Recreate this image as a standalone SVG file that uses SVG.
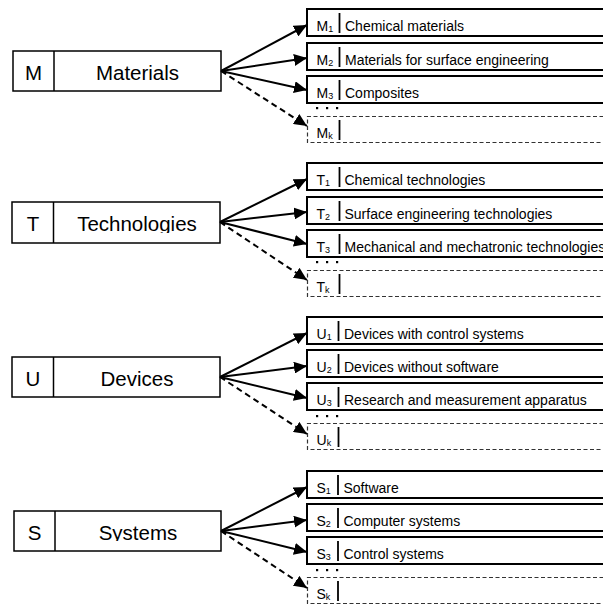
<svg xmlns="http://www.w3.org/2000/svg" width="603" height="604" viewBox="0 0 603 604">
<style>
.bg{fill:#fff}
.lb{fill:#fff;stroke:#000;stroke-width:1.5}
.ln{stroke:#000;stroke-width:1.5}
.sb{fill:#fff;stroke:#000;stroke-width:2}
.db{fill:none;stroke:#333;stroke-width:1.2;stroke-dasharray:4 2.5}
.dv{stroke:#000;stroke-width:1.8}
.big{font-family:"Liberation Sans",Arial,sans-serif;font-size:20.5px;fill:#000;text-anchor:middle}
.sm{font-family:"Liberation Sans",Arial,sans-serif;font-size:14px;fill:#000}
.sub{font-size:9px}
.ar{stroke:#000;stroke-width:2;fill:none;marker-end:url(#ah)}
.ard{stroke:#000;stroke-width:2;fill:none;stroke-dasharray:6 4;marker-end:url(#ah)}
.dot{fill:#000}
</style>
<defs>
<marker id="ah" markerUnits="userSpaceOnUse" markerWidth="14" markerHeight="12" refX="13" refY="6" orient="auto">
<path d="M0,0 L13,6 L0,12 Z" fill="#000"/>
</marker>
<clipPath id="cT"><rect x="54" y="202" width="166" height="31"/></clipPath>
<clipPath id="cS"><rect x="54" y="511" width="166" height="30"/></clipPath>
</defs>
<rect class="bg" x="0" y="0" width="603" height="604"/>

<!-- Left nodes -->
<g id="node-M">
<rect class="lb" x="13" y="51" width="208" height="40"/>
<line class="ln" x1="54" y1="51" x2="54" y2="91"/>
<text class="big" x="33.5" y="80">M</text>
<text class="big" x="137.5" y="80">Materials</text>
</g>
<g id="node-T">
<rect class="lb" x="12" y="202" width="208" height="41"/>
<line class="ln" x1="53.5" y1="202" x2="53.5" y2="243"/>
<text class="big" x="33" y="231">T</text>
<text class="big" x="137" y="231" clip-path="url(#cT)">Technologies</text>
</g>
<g id="node-U">
<rect class="lb" x="12" y="357" width="208" height="40"/>
<line class="ln" x1="53.5" y1="357" x2="53.5" y2="397"/>
<text class="big" x="33" y="385.5">U</text>
<text class="big" x="137" y="385.5">Devices</text>
</g>
<g id="node-S">
<rect class="lb" x="14" y="511" width="207" height="40"/>
<line class="ln" x1="55" y1="511" x2="55" y2="551"/>
<text class="big" x="34.5" y="540">S</text>
<text class="big" x="138" y="540" clip-path="url(#cS)">Systems</text>
</g>

<!-- Right nodes: M -->
<g id="node-M1"><rect class="sb" x="307" y="9" width="310" height="27"/><line class="dv" x1="339.5" y1="13" x2="339.5" y2="33"/><text class="sm" x="316.5" y="30.5">M<tspan class="sub" dy="1">1</tspan></text><text class="sm" x="345" y="30.5">Chemical materials</text></g>
<g id="node-M2"><rect class="sb" x="307" y="43" width="310" height="27"/><line class="dv" x1="339.5" y1="47" x2="339.5" y2="67"/><text class="sm" x="316.5" y="64.5">M<tspan class="sub" dy="1">2</tspan></text><text class="sm" x="345" y="64.5">Materials for surface engineering</text></g>
<g id="node-M3"><rect class="sb" x="307" y="76" width="310" height="27"/><line class="dv" x1="339.5" y1="80" x2="339.5" y2="100"/><text class="sm" x="316.5" y="97.5">M<tspan class="sub" dy="1">3</tspan></text><text class="sm" x="345" y="97.5">Composites</text></g>
<g id="dots-M"><rect class="dot" x="316" y="107" width="2.2" height="2.2"/><rect class="dot" x="326" y="107" width="2.2" height="2.2"/><rect class="dot" x="336" y="107" width="2.2" height="2.2"/></g>
<g id="node-Mk"><path class="db" d="M610,116.5 H307.5 V142.5 H610"/><line class="dv" x1="339.5" y1="120" x2="339.5" y2="140"/><text class="sm" x="316.5" y="137.5">M<tspan class="sub" dy="1">k</tspan></text></g>

<!-- Right nodes: T -->
<g id="node-T1"><rect class="sb" x="307" y="163" width="310" height="27"/><line class="dv" x1="339.5" y1="167" x2="339.5" y2="187"/><text class="sm" x="316.5" y="184.5">T<tspan class="sub" dy="1">1</tspan></text><text class="sm" x="344.5" y="184.5">Chemical technologies</text></g>
<g id="node-T2"><rect class="sb" x="307" y="197" width="310" height="27"/><line class="dv" x1="339.5" y1="201" x2="339.5" y2="221"/><text class="sm" x="316.5" y="218.5">T<tspan class="sub" dy="1">2</tspan></text><text class="sm" x="344.5" y="218.5">Surface engineering technologies</text></g>
<g id="node-T3"><rect class="sb" x="307" y="230" width="310" height="27"/><line class="dv" x1="339.5" y1="234" x2="339.5" y2="254"/><text class="sm" x="316.5" y="251.5">T<tspan class="sub" dy="1">3</tspan></text><text class="sm" x="344.5" y="251.5">Mechanical and mechatronic technologies</text></g>
<g id="dots-T"><rect class="dot" x="316" y="261" width="2.2" height="2.2"/><rect class="dot" x="326" y="261" width="2.2" height="2.2"/><rect class="dot" x="336" y="261" width="2.2" height="2.2"/></g>
<g id="node-Tk"><path class="db" d="M610,270.5 H307.5 V296.5 H610"/><line class="dv" x1="339.5" y1="274" x2="339.5" y2="294"/><text class="sm" x="316.5" y="291.5">T<tspan class="sub" dy="1">k</tspan></text></g>

<!-- Right nodes: U -->
<g id="node-U1"><rect class="sb" x="307" y="317" width="310" height="27"/><line class="dv" x1="338.5" y1="321" x2="338.5" y2="341"/><text class="sm" x="316.5" y="338.5">U<tspan class="sub" dy="1">1</tspan></text><text class="sm" x="344" y="338.5">Devices with control systems</text></g>
<g id="node-U2"><rect class="sb" x="307" y="350" width="310" height="27"/><line class="dv" x1="338.5" y1="354" x2="338.5" y2="374"/><text class="sm" x="316.5" y="371.5">U<tspan class="sub" dy="1">2</tspan></text><text class="sm" x="344" y="371.5">Devices without software</text></g>
<g id="node-U3"><rect class="sb" x="307" y="383" width="310" height="27"/><line class="dv" x1="338.5" y1="387" x2="338.5" y2="407"/><text class="sm" x="316.5" y="404.5">U<tspan class="sub" dy="1">3</tspan></text><text class="sm" x="344" y="404.5">Research and measurement apparatus</text></g>
<g id="dots-U"><rect class="dot" x="316" y="415" width="2.2" height="2.2"/><rect class="dot" x="326" y="415" width="2.2" height="2.2"/><rect class="dot" x="336" y="415" width="2.2" height="2.2"/></g>
<g id="node-Uk"><path class="db" d="M610,423.5 H307.5 V449.5 H610"/><line class="dv" x1="338.5" y1="427" x2="338.5" y2="447"/><text class="sm" x="316.5" y="444.5">U<tspan class="sub" dy="1">k</tspan></text></g>

<!-- Right nodes: S -->
<g id="node-S1"><rect class="sb" x="307" y="471" width="310" height="27"/><line class="dv" x1="338" y1="475" x2="338" y2="495"/><text class="sm" x="316.5" y="492.5">S<tspan class="sub" dy="1">1</tspan></text><text class="sm" x="343.5" y="492.5">Software</text></g>
<g id="node-S2"><rect class="sb" x="307" y="504" width="310" height="27"/><line class="dv" x1="338" y1="508" x2="338" y2="528"/><text class="sm" x="316.5" y="525.5">S<tspan class="sub" dy="1">2</tspan></text><text class="sm" x="343.5" y="525.5">Computer systems</text></g>
<g id="node-S3"><rect class="sb" x="307" y="537" width="310" height="27"/><line class="dv" x1="338" y1="541" x2="338" y2="561"/><text class="sm" x="316.5" y="558.5">S<tspan class="sub" dy="1">3</tspan></text><text class="sm" x="343.5" y="558.5">Control systems</text></g>
<g id="dots-S"><rect class="dot" x="316" y="569" width="2.2" height="2.2"/><rect class="dot" x="326" y="569" width="2.2" height="2.2"/><rect class="dot" x="336" y="569" width="2.2" height="2.2"/></g>
<g id="node-Sk"><path class="db" d="M610,577.5 H307.5 V603.5 H610"/><line class="dv" x1="338" y1="581" x2="338" y2="601"/><text class="sm" x="316.5" y="598.5">S<tspan class="sub" dy="1">k</tspan></text></g>

<!-- Connectors -->
<g id="connectors">
<line class="ar" x1="221" y1="71" x2="307" y2="25"/>
<line class="ar" x1="221" y1="71" x2="307" y2="58"/>
<line class="ar" x1="221" y1="71" x2="307" y2="90"/>
<line class="ard" x1="221" y1="71" x2="307" y2="126"/>

<line class="ar" x1="220" y1="222" x2="307" y2="179"/>
<line class="ar" x1="220" y1="222" x2="307" y2="212"/>
<line class="ar" x1="220" y1="222" x2="307" y2="244"/>
<line class="ard" x1="220" y1="222" x2="307" y2="280"/>

<line class="ar" x1="220" y1="377" x2="307" y2="333"/>
<line class="ar" x1="220" y1="377" x2="307" y2="366"/>
<line class="ar" x1="220" y1="377" x2="307" y2="398"/>
<line class="ard" x1="220" y1="377" x2="307" y2="434"/>

<line class="ar" x1="221" y1="531" x2="307" y2="487"/>
<line class="ar" x1="221" y1="531" x2="307" y2="520"/>
<line class="ar" x1="221" y1="531" x2="307" y2="552"/>
<line class="ard" x1="221" y1="531" x2="307" y2="588"/>
</g>
</svg>
